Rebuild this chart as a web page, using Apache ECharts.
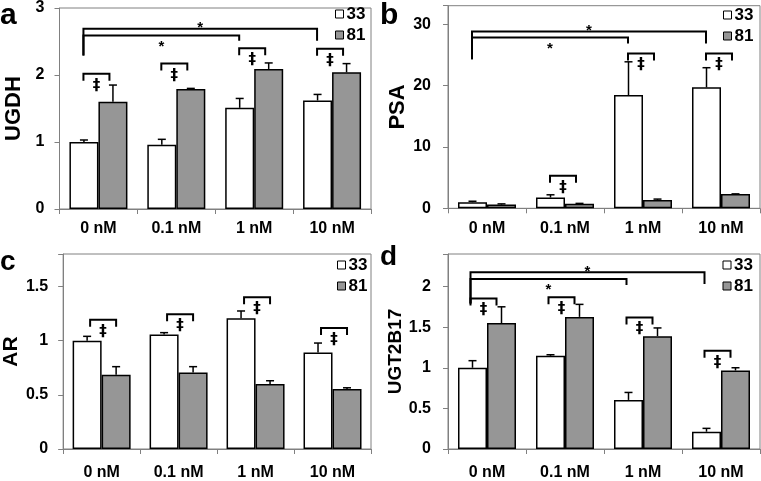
<!DOCTYPE html>
<html><head><meta charset="utf-8">
<script src="https://cdn.jsdelivr.net/npm/echarts@6/dist/echarts.min.js"></script>
<style>html,body{margin:0;padding:0;background:#fff}#c{width:761px;height:481px}</style>
</head><body><div id="c"></div>
<script>
// ---------- data ----------
const categories = ['0 nM', '0.1 nM', '1 nM', '10 nM'];
const seriesNames = ['33', '81'];

// panel a: UGDH
const ugdh33 = [1.00, 0.96, 1.51, 1.62];
const ugdh33Err = [1.03, 1.04, 1.65, 1.71];
const ugdh81 = [1.60, 1.79, 2.09, 2.04];
const ugdh81Err = [1.85, 1.80, 2.18, 2.17];
const ugdhPairSig = [2.02, 2.17, 2.40, 2.39];
// [line height, left end, to category, right end]
const ugdhDoseSig = [[2.69, 2.29, 3, 2.51], [2.59, 2.29, 2, 2.51]];

// panel b: PSA
const psa33 = [0.98, 1.75, 18.45, 19.7];
const psa33Err = [1.15, 2.2, 23.86, 22.9];
const psa81 = [0.6, 0.75, 1.35, 2.33];
const psa81Err = [0.72, 0.8, 1.5, 2.35];
const psaPairSig = [null, 5.3, 25.2, 25.2];
const psaDoseSig = [[28.8, 24.26, 3, 26.86], [27.84, 24.26, 2, 26.86]];

// panel c: AR
const ar33 = [1.0, 1.056, 1.207, 0.89];
const ar33Err = [1.04, 1.074, 1.274, 0.978];
const ar81 = [0.685, 0.707, 0.60, 0.555];
const ar81Err = [0.76, 0.76, 0.63, 0.565];
const arPairSig = [1.192, 1.244, 1.40, 1.117];
const arDoseSig = [];

// panel d: UGT2B17
const ugt33 = [1.0, 1.147, 0.604, 0.213];
const ugt33Err = [1.087, 1.16, 0.696, 0.254];
const ugt81 = [1.55, 1.626, 1.389, 0.966];
const ugt81Err = [1.75, 1.78, 1.49, 1.0];
const ugtPairSig = [1.853, 1.867, 1.618, 1.208];
const ugtDoseSig = [[2.174, 1.79, 3, 2.03], [2.093, 1.79, 2, 2.02]];

// ---------- layout / style ----------
const FONT = "'Liberation Sans', Arial, sans-serif";
const SYM_FONT = "'DejaVu Sans', 'Liberation Sans', sans-serif";
const AXIS_GRAY = '#808080';
const BAR_W = 29;
const panels = [
  {letter: 'a', lx: 0, ly: 16, lsize: 30, name: 'UGDH', nsize: 22, grid: {left: 59.5, top: 5, width: 311.5, height: 204}, max: 3, interval: 1, ylm: 15, xlm: 12, off: -15, legend: {left: 335, top: 5.5},
   d33: ugdh33, e33: ugdh33Err, d81: ugdh81, e81: ugdh81Err, pair: ugdhPairSig, dose: ugdhDoseSig},
  {letter: 'b', lx: 380, ly: 16, lsize: 30, name: 'PSA', nsize: 22, grid: {left: 448, top: 5.7, width: 312, height: 202.6}, max: 33, interval: 10, ylm: 17, xlm: 12, off: -15, legend: {left: 723, top: 6.5},
   d33: psa33, e33: psa33Err, d81: psa81, e81: psa81Err, pair: psaPairSig, dose: psaDoseSig},
  {letter: 'c', lx: 0, ly: 262, lsize: 28, name: 'AR', nsize: 21, grid: {left: 60, top: 254, width: 311, height: 199.3}, max: 1.8, interval: 0.5, ylm: 15, xlm: 16, off: -11.5, legend: {left: 337, top: 256.5},
   d33: ar33, e33: ar33Err, d81: ar81, e81: ar81Err, pair: arPairSig, dose: arDoseSig},
  {letter: 'd', lx: 380, ly: 257, lsize: 28, name: 'UGT2B17', nsize: 19, grid: {left: 448, top: 254, width: 312, height: 199.3}, max: 2.4, interval: 0.5, ylm: 17, xlm: 16, off: -16.5, legend: {left: 722.5, top: 256.5},
   d33: ugt33, e33: ugt33Err, d81: ugt81, e81: ugt81Err, pair: ugtPairSig, dose: ugtDoseSig}
];

const grids = [], xAxes = [], yAxes = [], series = [], legends = [], graphics = [];

panels.forEach((p, k) => {
  grids.push(Object.assign({show: true, borderColor: AXIS_GRAY, borderWidth: 1, containLabel: false}, p.grid));
  xAxes.push({
    gridIndex: k, type: 'category', data: categories, boundaryGap: true,
    axisLine: {lineStyle: {color: AXIS_GRAY, width: 1}},
    axisTick: {show: true, length: 5, lineStyle: {color: AXIS_GRAY}},
    axisLabel: {color: '#000', fontWeight: 'bold', fontSize: 16, fontFamily: FONT, margin: p.xlm, interval: 0},
    splitLine: {show: false}
  });
  const iv = p.interval;
  yAxes.push({
    gridIndex: k, type: 'value', min: 0, max: p.max, interval: iv,
    name: p.name, nameLocation: 'middle', nameGap: 35,
    nameTextStyle: {color: '#000', fontWeight: 'bold', fontSize: p.nsize, fontFamily: FONT},
    axisLine: {show: true, lineStyle: {color: AXIS_GRAY, width: 1}},
    axisTick: {show: true, length: 5, lineStyle: {color: AXIS_GRAY}},
    axisLabel: {color: '#000', fontWeight: 'bold', fontSize: 16, fontFamily: FONT, margin: p.ylm,
      formatter: v => (Math.abs(v / iv - Math.round(v / iv)) < 1e-6 ? String(+v.toFixed(2)) : '')},
    splitLine: {show: false}
  });
  series.push({
    name: seriesNames[0], type: 'bar', xAxisIndex: k, yAxisIndex: k, data: p.d33,
    barWidth: BAR_W, barGap: '0%',
    itemStyle: {color: '#ffffff', borderColor: '#000', borderWidth: 1.5}
  });
  series.push({
    name: seriesNames[1], type: 'bar', xAxisIndex: k, yAxisIndex: k, data: p.d81,
    barWidth: BAR_W, barGap: '0%',
    itemStyle: {color: '#969696', borderColor: '#000', borderWidth: 1.5}
  });
  // error bars
  const errData = [];
  categories.forEach((c, i) => {
    errData.push([i, p.d33[i], p.e33[i], 0]);
    errData.push([i, p.d81[i], p.e81[i], 1]);
  });
  series.push({
    type: 'custom', xAxisIndex: k, yAxisIndex: k, data: errData, z: 5, silent: true,
    renderItem: (params, api) => {
      const b = api.coord([api.value(0), api.value(1)]);
      const t = api.coord([api.value(0), api.value(2)]);
      const x = b[0] + (api.value(3) === 0 ? -BAR_W / 2 : BAR_W / 2);
      const st = {stroke: '#000', lineWidth: 1.5};
      return {type: 'group', children: [
        {type: 'line', shape: {x1: x, y1: b[1], x2: x, y2: t[1]}, style: st},
        {type: 'line', shape: {x1: x - 4, y1: t[1], x2: x + 4, y2: t[1]}, style: st}
      ]};
    }
  });
  // pair significance brackets (‡)
  const pairData = [];
  p.pair.forEach((v, i) => { if (v != null) pairData.push([i, v]); });
  const off = p.off;
  series.push({
    type: 'custom', xAxisIndex: k, yAxisIndex: k, data: pairData, z: 6, silent: true,
    renderItem: (params, api) => {
      const c = api.coord([api.value(0), api.value(1)]);
      const x0 = c[0] + off, x1 = x0 + 26, y = c[1];
      const st = {stroke: '#000', lineWidth: 2};
      return {type: 'group', children: [
        {type: 'polyline', shape: {points: [[x0, y + 7], [x0, y], [x1, y], [x1, y + 7]]}, style: Object.assign({fill: null}, st)},
        {type: 'text', style: {text: '‡', x: (x0 + x1) / 2, y: y + 12, align: 'center', verticalAlign: 'middle', fontSize: 15, fontWeight: 'bold', fontFamily: SYM_FONT, fill: '#000'}}
      ]};
    }
  });
  // dose significance brackets (*)
  if (p.dose.length) {
    const doseData = p.dose.map((d, j) => [0, d[0], d[2], d[1], d[3], j]);
    series.push({
      type: 'custom', xAxisIndex: k, yAxisIndex: k, data: doseData, z: 6, silent: true,
      dimensions: ['x', 'y', 'to', 'left', 'right', 'ord'],
      renderItem: (params, api) => {
        const a0 = api.coord([0, api.value(1)]);
        const a1 = api.coord([api.value(2), api.value(1)]);
        const yl = api.coord([0, api.value(3)])[1];
        const yr = api.coord([0, api.value(4)])[1];
        const x0 = a0[0] + off, x1 = a1[0] + off, y = a0[1];
        const above = api.value(5) === 0;
        const st = {stroke: '#000', lineWidth: 2, fill: null};
        return {type: 'group', children: [
          {type: 'polyline', shape: {points: [[x0, yl], [x0, y], [x1, y], [x1, yr]]}, style: st},
          {type: 'text', style: {text: '*', x: (x0 + x1) / 2, y: above ? y - 1 : y + 11, align: 'center', verticalAlign: 'middle', fontSize: 15, fontWeight: 'bold', fontFamily: FONT, fill: '#000'}}
        ]};
      }
    });
  }
  legends.push({
    data: seriesNames, orient: 'vertical', left: p.legend.left, top: p.legend.top, padding: 0, itemGap: 4,
    itemWidth: 8, itemHeight: 8, icon: 'rect', selectedMode: false,
    itemStyle: {borderColor: '#000', borderWidth: 1},
    textStyle: {color: '#000', fontWeight: 'bold', fontSize: 17, fontFamily: FONT, padding: [0, 0, 0, -2]}
  });
  graphics.push({
    type: 'text', x: p.lx, y: p.ly,
    style: {text: p.letter, fontSize: p.lsize, fontWeight: 'bold', fontFamily: FONT, fill: '#000', verticalAlign: 'middle'}
  });
});

const chart = echarts.init(document.getElementById('c'), null, {renderer: 'canvas'});
chart.setOption({
  animation: false,
  backgroundColor: '#fff',
  grid: grids, xAxis: xAxes, yAxis: yAxes, series: series, legend: legends, graphic: graphics
});
</script>
</body></html>
